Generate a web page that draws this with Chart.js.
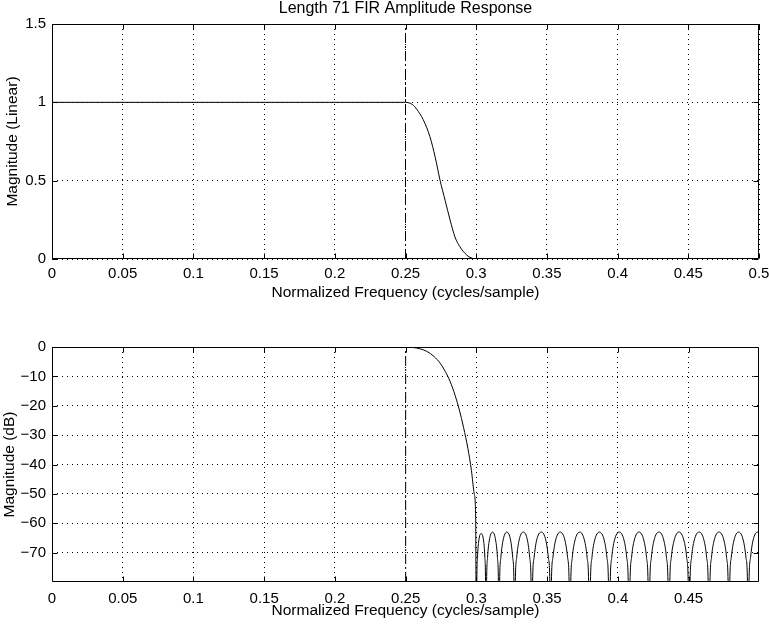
<!DOCTYPE html>
<html>
<head>
<meta charset="utf-8">
<script src="https://cdn.jsdelivr.net/npm/chart.js@4/dist/chart.umd.min.js"></script>
<style>
  html, body { margin: 0; padding: 0; background: #fff; }
  #wrap { position: relative; width: 769px; height: 624px; overflow: hidden; }
  .box { position: absolute; left: 0; width: 769px; }
</style>
</head>
<body>
<div id="wrap">
  <div class="box" style="top:0;height:310px"><canvas id="top"></canvas></div>
  <div class="box" style="top:310px;height:314px"><canvas id="bot"></canvas></div>
</div>
<script>
// ---------- data ----------
const chartTitle = 'Length 71 FIR Amplitude Response';
const xTitle = 'Normalized Frequency (cycles/sample)';
const yTitleTop = 'Magnitude (Linear)';
const yTitleBot = 'Magnitude (dB)';

const xTicksTop = [0, 0.05, 0.1, 0.15, 0.2, 0.25, 0.3, 0.35, 0.4, 0.45, 0.5];
const xTicksBot = [0, 0.05, 0.1, 0.15, 0.2, 0.25, 0.3, 0.35, 0.4, 0.45];
const yTicksTop = [0, 0.5, 1, 1.5];
const yTicksBot = [-70, -60, -50, -40, -30, -20, -10, 0];

// band edge marker (dash-dot line)
const edgeFreq = 0.25;

// linear magnitude response
const linFreq = [0, 0.25, 0.255, 0.258, 0.2625, 0.2673, 0.271, 0.2745, 0.278, 0.2815, 0.285, 0.2885, 0.2933, 0.2965, 0.3, 0.5];
const linMag  = [1, 1, 0.985, 0.955, 0.89, 0.78, 0.65, 0.50, 0.375, 0.25, 0.14, 0.078, 0.025, 0.007, 0, 0];

// dB response: passband + transition
const dbTransFreq = [0, 0.25, 0.255, 0.26, 0.265, 0.27, 0.2744, 0.278, 0.2815, 0.285, 0.288, 0.291, 0.294, 0.2965, 0.2985, 0.2995, 0.3];
const dbTransMag  = [0, 0, -0.15, -0.6, -1.5, -3.2, -5.5, -8.3, -11.8, -16.5, -21.5, -27.5, -34.5, -42, -50, -58, -110];

// dB response: stopband ripple lobes (nulls drop below the axis)
const stopFreq = [
  0.3003, 0.3008, 0.3017, 0.3034, 0.3051, 0.3060, 0.3065, 0.3068,
  0.3072, 0.3079, 0.3091, 0.3114, 0.3137, 0.3149, 0.3156, 0.3160,
  0.3164, 0.3173, 0.3188, 0.3215, 0.3243, 0.3257, 0.3266, 0.3270,
  0.3275, 0.3285, 0.3301, 0.3331, 0.3362, 0.3377, 0.3387, 0.3392,
  0.3397, 0.3408, 0.3425, 0.3459, 0.3492, 0.3509, 0.3520, 0.3525,
  0.3530, 0.3541, 0.3559, 0.3593, 0.3627, 0.3645, 0.3656, 0.3661,
  0.3667, 0.3678, 0.3696, 0.3731, 0.3765, 0.3783, 0.3794, 0.3800,
  0.3806, 0.3817, 0.3835, 0.3870, 0.3905, 0.3923, 0.3934, 0.3940,
  0.3946, 0.3957, 0.3975, 0.4010, 0.4045, 0.4063, 0.4074, 0.4080,
  0.4086, 0.4097, 0.4115, 0.4150, 0.4185, 0.4203, 0.4214, 0.4220,
  0.4226, 0.4237, 0.4255, 0.4291, 0.4326, 0.4344, 0.4355, 0.4361,
  0.4367, 0.4378, 0.4397, 0.4433, 0.4468, 0.4487, 0.4498, 0.4504,
  0.4510, 0.4521, 0.4539, 0.4575, 0.4610, 0.4628, 0.4639, 0.4645,
  0.4651, 0.4662, 0.4680, 0.4716, 0.4751, 0.4769, 0.4780, 0.4786,
  0.4791, 0.4802, 0.4820, 0.4854, 0.4888, 0.4906, 0.4917, 0.4922,
  0.4927, 0.4938, 0.4955, 0.4988, 0.5021
];
const stopMag = [
  -81, -71.7, -66, -63.5, -66, -71.7, -81, -110,
  -81, -71.7, -66, -63, -66, -71.7, -81, -110,
  -81, -71.7, -66, -63, -66, -71.7, -81, -110,
  -81, -71.7, -66, -63, -66, -71.7, -81, -110,
  -81, -71.7, -66, -63, -66, -71.7, -81, -110,
  -81, -71.7, -66, -63, -66, -71.7, -81, -110,
  -81, -71.7, -66, -63, -66, -71.7, -81, -110,
  -81, -71.7, -66, -63, -66, -71.7, -81, -110,
  -81, -71.7, -66, -63, -66, -71.7, -81, -110,
  -81, -71.7, -66, -63, -66, -71.7, -81, -110,
  -81, -71.7, -66, -63, -66, -71.7, -81, -110,
  -81, -71.7, -66, -63, -66, -71.7, -81, -110,
  -81, -71.7, -66, -63, -66, -71.7, -81, -110,
  -81, -71.7, -66, -63, -66, -71.7, -81, -110,
  -81, -71.7, -66, -63, -66, -71.7, -81, -110,
  -81, -71.7, -66, -63, -66
];

// ---------- helpers ----------
const FONT = "'Liberation Sans', Arial, Helvetica, sans-serif";
Chart.defaults.color = '#000';
Chart.defaults.font.family = FONT;
Chart.defaults.animation = false;

const fmt = v => String(v).replace('-', '\u2212');
const pts = (xs, ys) => xs.map((x, i) => ({x, y: ys[i]}));

const boxTicks = {
  id: 'boxTicks',
  afterDatasetsDraw(chart, args, opts) {
    const {ctx, chartArea: a, scales: {x, y}} = chart;
    ctx.save();
    ctx.strokeStyle = '#000';
    ctx.lineWidth = 1;
    ctx.beginPath();
    const L = Math.round(a.left) + 0.5, R = Math.round(a.right) - 0.5;
    const T = Math.round(a.top) + 0.5, B = Math.round(a.bottom) - 0.5;
    ctx.rect(L, T, R - L, B - T);
    const tl = 5;
    x.ticks.forEach(t => {
      const px = Math.round(x.getPixelForValue(t.value)) + 0.5;
      ctx.moveTo(px, B); ctx.lineTo(px, B - tl);
      ctx.moveTo(px, T); ctx.lineTo(px, T + tl);
    });
    y.ticks.forEach(t => {
      const py = Math.round(y.getPixelForValue(t.value)) + 0.5;
      ctx.moveTo(L, py); ctx.lineTo(L + tl, py);
      ctx.moveTo(R, py); ctx.lineTo(R - tl, py);
    });
    ctx.stroke();
    // axes title centred over the plot box
    if (opts && opts.text) {
      ctx.fillStyle = '#000';
      ctx.font = '16px ' + FONT;
      ctx.textAlign = 'center';
      ctx.textBaseline = 'middle';
      ctx.fillText(opts.text, (a.left + a.right) / 2, a.top - 15);
    }
    ctx.restore();
  }
};

function makeChart(id, cfg) {
  return new Chart(document.getElementById(id), {
    type: 'line',
    data: { datasets: [
      { data: cfg.curve, borderColor: '#000', borderWidth: 1, pointRadius: 0,
        cubicInterpolationMode: 'monotone', fill: false, order: 1 },
      { data: cfg.edge, borderColor: '#000', borderWidth: 1, pointRadius: 0,
        borderDash: [10, 3, 2, 3], tension: 0, fill: false, order: 2 }
    ]},
    options: {
      responsive: true, maintainAspectRatio: false,
      layout: { padding: cfg.pad },
      plugins: {
        legend: { display: false }, tooltip: { enabled: false }, title: { display: false },
        boxTicks: { text: cfg.title }
      },
      scales: {
        x: {
          type: 'linear', min: 0, max: cfg.xMax,
          afterBuildTicks: s => { s.ticks = cfg.xTicks.map(v => ({value: v})); },
          afterFit: s => { s.paddingLeft = 0; s.paddingRight = 0; s.height = cfg.xH; },
          ticks: { autoSkip: false, maxRotation: 0, padding: cfg.xPad, font: { size: 15 }, color: '#000',
            callback: v => fmt(v) },
          grid: { color: '#000', lineWidth: 1, drawTicks: false },
          border: { display: false, dash: [1, 4] },
          title: { display: true, text: xTitle, color: '#000', font: { size: 15.5 }, padding: { top: 0, bottom: cfg.xTitlePad } }
        },
        y: {
          type: 'linear', min: cfg.yMin, max: cfg.yMax,
          afterBuildTicks: s => { s.ticks = cfg.yTicks.map(v => ({value: v})); },
          afterFit: s => { s.width = 52; },
          ticks: { autoSkip: false, padding: 6, font: { size: 15 }, color: '#000', callback: v => fmt(v) },
          grid: { color: '#000', lineWidth: 1, drawTicks: false },
          border: { display: false, dash: [1, 4] },
          title: { display: true, text: cfg.yTitle, color: '#000', font: { size: 15.5 }, padding: { top: cfg.yTitlePad, bottom: 0 } }
        }
      }
    },
    plugins: [boxTicks]
  });
}

makeChart('top', {
  curve: pts(linFreq, linMag),
  edge: pts([edgeFreq, edgeFreq], [0, 1.5]),
  title: chartTitle,
  pad: { left: 0, right: 10, top: 24, bottom: 0 },
  xMax: 0.5, xTicks: xTicksTop, xH: 51, xPad: 6, xTitlePad: 7.7,
  yMin: 0, yMax: 1.5, yTicks: yTicksTop, yTitle: yTitleTop, yTitlePad: 3.7
});

makeChart('bot', {
  curve: pts(dbTransFreq.concat(stopFreq), dbTransMag.concat(stopMag)),
  edge: pts([edgeFreq, edgeFreq], [-80, 0]),
  title: null,
  pad: { left: 0, right: 10, top: 37, bottom: 0 },
  xMax: 0.4998, xTicks: xTicksBot, xH: 42, xPad: 8, xTitlePad: 3.5,
  yMin: -80, yMax: 0, yTicks: yTicksBot, yTitle: yTitleBot, yTitlePad: 0
});
</script>
</body>
</html>
